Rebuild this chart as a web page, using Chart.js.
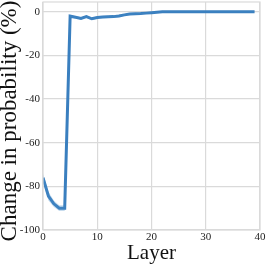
<!DOCTYPE html>
<html lang="en">
<head>
    <meta charset="UTF-8">
    <title>Change in probability</title>
    <style>
        html, body { margin: 0; padding: 0; background: #fff; }
        #wrap { width: 266px; height: 266px; }
    </style>
</head>
<body>
<div id="wrap"><canvas id="myChart" width="266" height="266"></canvas></div>

<script src="https://cdn.jsdelivr.net/npm/chart.js"></script>
<script>
    const layers = [0,1,2,3,4,5,6,7,8,9,10,11,12,13,14,15,16,17,18,19,20,21,22,23,24,25,26,27,28,29,30,31,32,33,34,35,36,37,38,39]
    const change = [-76,-84.5,-88,-90,-90,-2,-2.5,-3,-2.2,-3.2,-2.6,-2.4,-2.3,-2.2,-1.9,-1.4,-1,-0.9,-0.8,-0.6,-0.4,-0.2,0,0,0,0,0,0,0,0,0,0,0,0,0,0,0,0,0,0]
    const lower = [-78,-86.5,-89.5,-91.3,-91.3,-2.6,-3,-3.5,-2.7,-3.7,-3.1,-2.9,-2.8,-2.7,-2.4,-1.8,-1.4,-1.2,-1.1,-0.9,-0.7,-0.4,-0.2,-0.2,-0.2,-0.2,-0.2,-0.2,-0.2,-0.2,-0.2,-0.2,-0.2,-0.2,-0.2,-0.2,-0.2,-0.2,-0.2,-0.2]
    const upper = [-74,-82.5,-86.5,-88.7,-88.7,-1.4,-2,-2.5,-1.7,-2.7,-2.1,-1.9,-1.8,-1.7,-1.4,-1,-0.6,-0.6,-0.5,-0.3,-0.1,0,0.2,0.2,0.2,0.2,0.2,0.2,0.2,0.2,0.2,0.2,0.2,0.2,0.2,0.2,0.2,0.2,0.2,0.2]
    const yTicks = [0,-20,-40,-60,-80,-100]
    const yTitle = 'Change in probability (%)'

    const toPoints = (arr) => layers.map((l, i) => ({x: l, y: arr[i]}))
    const serif = "'Liberation Serif', 'DejaVu Serif', serif"
    const gridColor = '#dadada'

    // light frame around the plot area + y title placed a bit lower than the axis centre
    const frame = {
        id: 'frame',
        afterDraw(chart) {
            const a = chart.chartArea
            const c = chart.ctx
            c.save()
            c.strokeStyle = gridColor
            c.lineWidth = 1.2
            c.strokeRect(a.left, a.top, a.right - a.left, a.bottom - a.top)
            c.translate(16, 121)
            c.rotate(-Math.PI / 2)
            c.fillStyle = '#111'
            c.font = "23px " + serif
            c.textAlign = 'center'
            c.textBaseline = 'alphabetic'
            c.fillText(yTitle, 0, 0)
            c.restore()
        }
    }

    new Chart(document.getElementById('myChart'), {
        type: 'line',
        data: {
            datasets: [
                {data: toPoints(lower), borderWidth: 0, pointRadius: 0, fill: false},
                {data: toPoints(upper), borderWidth: 0, pointRadius: 0, fill: '-1', backgroundColor: 'rgba(70,140,200,0.3)'},
                {data: toPoints(change), borderColor: '#3a7fbf', borderWidth: 3, pointRadius: 0, fill: false, tension: 0}
            ]
        },
        options: {
            responsive: false,
            animation: false,
            plugins: { legend: { display: false }, tooltip: { enabled: false } },
            layout: { padding: { top: 2, right: 6, left: 0, bottom: 0 } },
            scales: {
                x: {
                    type: 'linear',
                    min: 0,
                    max: 40,
                    afterFit(scale) { scale.height = 36; scale.paddingLeft = 0; scale.paddingRight = 0 },
                    ticks: { stepSize: 10, color: '#222', padding: 1, font: { family: serif, size: 11 }, maxRotation: 0 },
                    grid: { color: gridColor, lineWidth: 1.2, drawTicks: false },
                    border: { display: false },
                    title: { display: true, text: 'Layer', color: '#111', padding: { top: 1, bottom: 0 }, font: { family: serif, size: 21 } }
                },
                y: {
                    min: -100,
                    max: 4.5,
                    afterFit(scale) { scale.width = 43; scale.paddingTop = 0; scale.paddingBottom = 0 },
                    afterBuildTicks(scale) { scale.ticks = yTicks.map(v => ({value: v})) },
                    ticks: { color: '#222', padding: 3, font: { family: serif, size: 11 } },
                    grid: { color: gridColor, lineWidth: 1.2, drawTicks: false },
                    border: { display: false }
                }
            }
        },
        plugins: [frame]
    });
</script>
</body>
</html>
